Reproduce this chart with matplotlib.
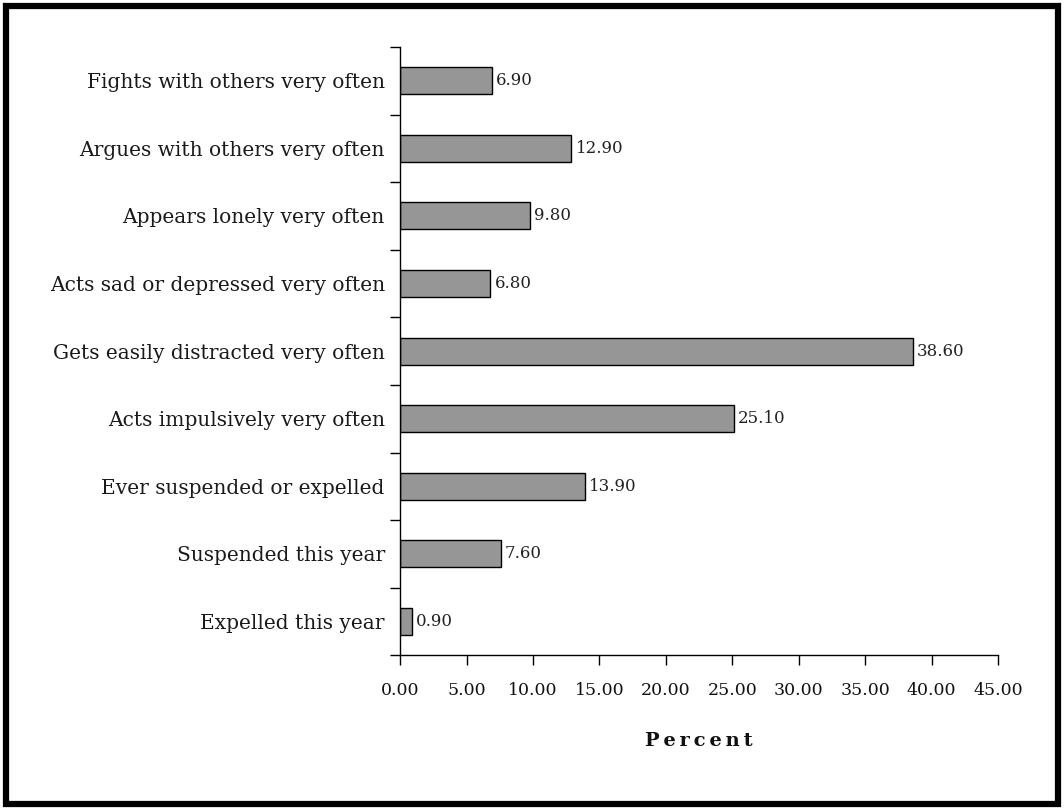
import matplotlib.pyplot as plt
from matplotlib.patches import Rectangle
from matplotlib.ticker import FixedLocator, NullFormatter

categories = [
    'Fights with others very often',
    'Argues with others very often',
    'Appears lonely very often',
    'Acts sad or depressed very often',
    'Gets easily distracted very often',
    'Acts impulsively very often',
    'Ever suspended or expelled',
    'Suspended this year',
    'Expelled this year',
]
percent = [6.90, 12.90, 9.80, 6.80, 38.60, 25.10, 13.90, 7.60, 0.90]
xticks = [0, 5, 10, 15, 20, 25, 30, 35, 40, 45]

plt.rcParams['font.family'] = ['DejaVu Serif']

fig = plt.figure(figsize=(10.64, 8.10), dpi=100)
ax = fig.add_axes([0.376, 0.191, 0.562, 0.751])

# bottom-to-top ordering so the first category sits at the top
ypos = list(range(len(categories)))[::-1]
ax.barh(ypos, percent, height=0.4, color='#969696', edgecolor='black', linewidth=1.0)
for y, v in zip(ypos, percent):
    ax.text(v + 0.3, y, f'{v:.2f}', va='center', ha='left', fontsize=12, color='#222222')

ax.set_xlim(0, 45)
ax.set_ylim(-0.5, len(categories) - 0.5)
ax.set_xticks(xticks)
ax.set_xticklabels([f'{t:.2f}' for t in xticks], fontsize=12.5, color='#111111')

# category labels centred, tick marks drawn between categories
ax.set_yticks(ypos)
ax.set_yticklabels(categories, fontsize=14.5, color='#1a1a1a')
ax.tick_params(axis='y', which='major', length=0, pad=11)
ax.yaxis.set_minor_locator(FixedLocator([y + 0.5 for y in range(-1, len(categories))]))
ax.yaxis.set_minor_formatter(NullFormatter())
ax.tick_params(axis='y', which='minor', length=7, width=1.0, direction='out')
ax.tick_params(axis='x', length=7, width=1.0, direction='out', pad=12)

for side in ['top', 'right']:
    ax.spines[side].set_visible(False)
for side in ['left', 'bottom']:
    ax.spines[side].set_linewidth(1.0)

ax.set_xlabel('P\u2009e\u2009r\u2009c\u2009e\u2009n\u2009t', fontsize=14, fontweight='bold',
              color='#111111', labelpad=24)

# heavy border around the whole figure
fig.patches.append(Rectangle((0.006, 0.007), 0.988, 0.986, transform=fig.transFigure,
                             fill=False, edgecolor='black', linewidth=4.5))

fig.savefig('out.png', dpi=100)
